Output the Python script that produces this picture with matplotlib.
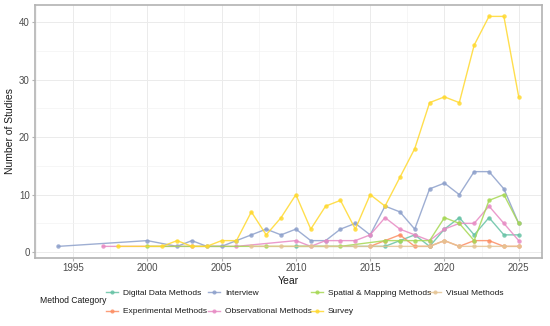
import matplotlib
matplotlib.use("Agg")
import matplotlib.pyplot as plt
from matplotlib.lines import Line2D
from matplotlib.ticker import MultipleLocator

plt.rcParams['font.family'] = ['Liberation Sans', 'DejaVu Sans']

categories = ["Digital Data Methods", "Experimental Methods", "Interview",
              "Observational Methods", "Spatial & Mapping Methods", "Survey",
              "Visual Methods"]
colors = ["#66C2A5", "#FC8D62", "#8DA0CB", "#E78AC3", "#A6D854", "#FFD92F", "#E5C494"]

digital_years = [2010, 2016, 2017, 2018, 2019, 2020, 2021, 2022, 2023, 2024, 2025]
digital_vals = [1, 1, 2, 3, 1, 4, 6, 3, 6, 3, 3]

experimental_years = [2015, 2016, 2017, 2018, 2019, 2020, 2021, 2022, 2023, 2024, 2025]
experimental_vals = [1, 2, 3, 1, 1, 2, 1, 2, 2, 1, 1]

interview_years = [1994, 2000, 2002, 2003, 2004, 2005, 2006, 2007, 2008, 2009, 2010,
                   2011, 2012, 2013, 2014, 2015, 2016, 2017, 2018, 2019, 2020, 2021,
                   2022, 2023, 2024, 2025]
interview_vals = [1, 2, 1, 2, 1, 1, 2, 3, 4, 3, 4, 2, 2, 4, 5, 3, 8, 7, 4, 11, 12, 10,
                  14, 14, 11, 5]

observational_years = [1997, 2003, 2006, 2010, 2011, 2012, 2013, 2014, 2015, 2016, 2017,
                       2018, 2019, 2020, 2021, 2022, 2023, 2024, 2025]
observational_vals = [1, 1, 1, 2, 1, 2, 2, 2, 3, 6, 4, 3, 2, 4, 5, 5, 8, 5, 2]

spatial_years = [2000, 2008, 2013, 2016, 2017, 2018, 2019, 2020, 2021, 2022, 2023, 2024, 2025]
spatial_vals = [1, 1, 1, 2, 2, 2, 2, 6, 5, 2, 9, 10, 5]

survey_years = [1998, 2001, 2002, 2003, 2004, 2005, 2006, 2007, 2008, 2009, 2010, 2011,
                2012, 2013, 2014, 2015, 2016, 2017, 2018, 2019, 2020, 2021, 2022, 2023,
                2024, 2025]
survey_vals = [1, 1, 2, 1, 1, 2, 2, 7, 3, 6, 10, 4, 8, 9, 4, 10, 8, 13, 18, 26, 27, 26,
               36, 41, 41, 27]

visual_years = [2007, 2009, 2011, 2012, 2014, 2015, 2017, 2019, 2020, 2021, 2022, 2023,
                2024, 2025]
visual_vals = [1, 1, 1, 1, 1, 1, 1, 1, 2, 1, 1, 1, 1, 1]

series = [(digital_years, digital_vals), (experimental_years, experimental_vals),
          (interview_years, interview_vals), (observational_years, observational_vals),
          (spatial_years, spatial_vals), (survey_years, survey_vals),
          (visual_years, visual_vals)]

x_ticks = [1995, 2000, 2005, 2010, 2015, 2020, 2025]
y_ticks = [0, 10, 20, 30, 40]

fig = plt.figure(figsize=(5.5, 3.26), dpi=100)
ax = fig.add_axes([0.064, 0.209, 0.921, 0.776])

for (xs, ys), col, name in zip(series, colors, categories):
    ax.plot(xs, ys, color=col, lw=1.0, alpha=0.85, marker='o', markersize=3.2,
            markeredgewidth=0, label=name, zorder=3)

ax.set_xlim(1992.45, 2026.55)
ax.set_ylim(-1, 43)
ax.set_xticks(x_ticks)
ax.set_yticks(y_ticks)
ax.xaxis.set_minor_locator(MultipleLocator(2.5))
ax.yaxis.set_minor_locator(MultipleLocator(5))
ax.grid(which='major', color='#EBEBEB', lw=0.7, zorder=0)
ax.grid(which='minor', color='#F3F3F3', lw=0.5, zorder=0)
for s in ax.spines.values():
    s.set_color('#B3B3B3')
    s.set_linewidth(1.2)
ax.tick_params(which='major', length=2.5, color='#B3B3B3', labelsize=7, labelcolor='#4D4D4D', pad=1.5)
ax.tick_params(which='minor', length=0)
ax.set_xlabel("Year", fontsize=7.5, color='#1A1A1A', labelpad=2)
ax.set_ylabel("Number of Studies", fontsize=7.5, color='#1A1A1A', labelpad=3)

handles = [Line2D([0], [0], color=c, lw=1.0, alpha=0.85, marker='o', markersize=3,
                  markeredgewidth=0) for c in colors]
col_groups = [[0, 1], [2, 3], [4, 5], [6]]
col_x = [106, 208, 311, 429]
leg_y = 0.0767
for grp, xpx in zip(col_groups, col_x):
    lg = fig.legend([handles[i] for i in grp], [categories[i] for i in grp],
                    loc='upper left', bbox_to_anchor=(xpx / 550, 0.1135),
                    ncol=1, frameon=False, fontsize=6.0, handlelength=1.45,
                    handletextpad=0.6, labelspacing=1.3, borderpad=0, borderaxespad=0)
    for t in lg.get_texts():
        t.set_color('#1A1A1A')
fig.text(40 / 550, leg_y, "Method Category", fontsize=6.2, color='#1A1A1A',
         va='center', ha='left')

fig.savefig("out.png", dpi=100)
